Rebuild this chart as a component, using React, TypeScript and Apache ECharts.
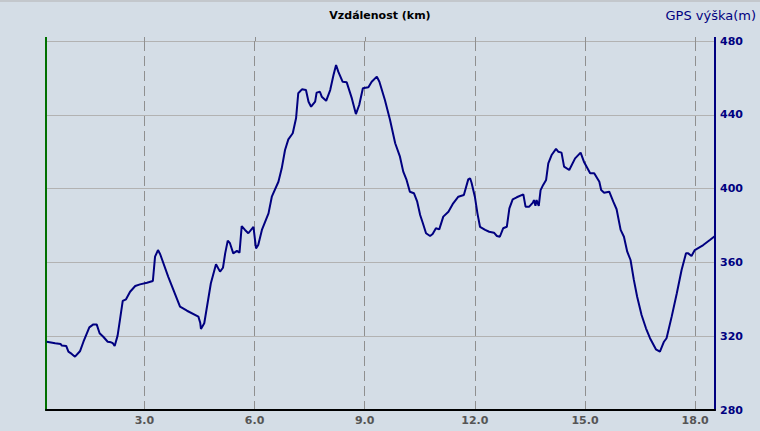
import React, { useEffect, useRef } from "react";
import * as echarts from "echarts";

const distanceKm = [
  0.34, 0.57, 0.72, 0.75, 0.87, 0.93, 1.02, 1.11, 1.25, 1.34, 1.5, 1.61, 1.7, 1.78, 1.88, 2.0, 2.09, 2.14,
  2.19, 2.27, 2.34, 2.41, 2.5, 2.61, 2.75, 2.88, 3.07, 3.23, 3.29, 3.37, 3.43, 3.65, 3.97, 4.16, 4.47, 4.52,
  4.54, 4.63, 4.81, 4.95, 5.06, 5.14, 5.2, 5.27, 5.33, 5.42, 5.52, 5.59, 5.65, 5.74, 5.83, 5.97, 6.04, 6.1,
  6.2, 6.29, 6.38, 6.47, 6.65, 6.74, 6.83, 6.92, 7.04, 7.13, 7.19, 7.29, 7.4, 7.47, 7.54, 7.65, 7.69, 7.78,
  7.83, 7.95, 8.06, 8.15, 8.22, 8.28, 8.4, 8.51, 8.65, 8.76, 8.85, 8.95, 9.1, 9.19, 9.33, 9.4, 9.55, 9.69,
  9.83, 9.96, 10.05, 10.14, 10.23, 10.34, 10.43, 10.51, 10.58, 10.67, 10.78, 10.85, 10.94, 11.03, 11.14,
  11.28, 11.41, 11.55, 11.7, 11.82, 11.87, 11.91, 12.0, 12.07, 12.14, 12.28, 12.39, 12.52, 12.6, 12.68,
  12.77, 12.87, 12.94, 13.03, 13.14, 13.32, 13.38, 13.48, 13.58, 13.61, 13.65, 13.68, 13.74, 13.79, 13.86,
  13.94, 14.0, 14.09, 14.21, 14.27, 14.36, 14.43, 14.57, 14.73, 14.88, 14.97, 15.14, 15.25, 15.39, 15.44,
  15.52, 15.66, 15.77, 15.86, 15.97, 16.06, 16.15, 16.24, 16.33, 16.42, 16.54, 16.66, 16.77, 16.93, 17.04,
  17.15, 17.22, 17.36, 17.5, 17.63, 17.75, 17.81, 17.9, 17.99, 18.22, 18.4, 18.54,
];

const elevationM = [
  317.0, 316.2, 315.8, 314.9, 314.7, 311.6, 310.4, 308.9, 312.0, 317.0, 324.8, 326.4, 326.4, 321.6, 319.7,
  317.0, 316.7, 316.2, 314.7, 320.3, 329.7, 339.1, 340.0, 344.1, 347.2, 348.1, 349.0, 349.9, 363.1, 366.7,
  364.4, 352.2, 336.0, 333.8, 330.6, 327.3, 323.9, 327.0, 348.7, 359.0, 355.0, 357.1, 364.9, 371.8, 370.4,
  364.9, 366.2, 365.3, 379.7, 377.6, 375.8, 379.3, 367.6, 369.4, 377.6, 382.1, 386.6, 395.6, 403.7, 411.0,
  420.9, 426.7, 430.0, 438.1, 451.7, 453.8, 453.4, 447.1, 444.4, 447.1, 452.0, 452.5, 449.8, 447.6, 453.4,
  461.6, 467.0, 463.4, 457.9, 457.6, 448.9, 440.4, 445.3, 454.4, 454.9, 457.9, 460.7, 457.9, 448.0, 437.2,
  424.6, 417.3, 409.2, 404.7, 398.3, 397.5, 392.9, 385.7, 381.5, 375.8, 374.3, 375.4, 378.5, 377.9, 384.8,
  387.5, 392.0, 395.6, 396.5, 405.0, 405.6, 403.2, 395.6, 386.6, 379.3, 377.6, 376.6, 376.1, 374.3, 373.9,
  378.5, 379.3, 389.3, 394.2, 395.3, 396.9, 390.2, 390.2, 392.4, 393.8, 390.7, 393.8, 390.6, 399.2, 402.0,
  404.7, 413.7, 418.2, 421.5, 420.0, 419.5, 411.9, 410.1, 416.4, 419.5, 414.6, 408.3, 408.3, 403.7, 399.2,
  397.8, 398.3, 392.9, 388.8, 377.6, 373.9, 365.8, 361.3, 350.5, 341.4, 331.5, 324.3, 318.9, 312.9, 311.6,
  317.0, 318.9, 330.6, 343.3, 355.9, 364.9, 364.9, 363.5, 366.7, 369.4, 372.1, 374.3,
];

const xTickValues = [3, 6, 9, 12, 15, 18];
const xRange = [0.32, 18.54];
const yRange = [280, 480];
const yInterval = 40;
const xTitle = "Vzdálenost (km)";
const yTitle = "GPS výška(m)";

export default function App() {
  const ref = useRef<HTMLDivElement>(null);

  useEffect(() => {
    if (!ref.current) return;
    const chart = echarts.init(ref.current, null, { renderer: "svg" });
    const data = distanceKm.map((d, i) => [d, elevationM[i]]);
    const font = "'DejaVu Sans', Verdana, sans-serif";
    const gridTop = 41;
    const ext = 4;
    const baseGraphic: any[] = [
      { type: "rect", left: 0, top: 0, shape: { width: 760, height: 2 }, style: { fill: "#c3c7cc" } },
      {
        type: "text",
        x: 380,
        y: 15,
        style: {
          text: xTitle,
          fill: "#000000",
          font: `bold 11px ${font}`,
          textAlign: "center",
          textVerticalAlign: "middle",
        },
      },
      {
        type: "text",
        x: 756,
        y: 15,
        style: {
          text: yTitle,
          fill: "#000080",
          font: `13px ${font}`,
          textAlign: "right",
          textVerticalAlign: "middle",
        },
      },
    ];
    chart.setOption({
      animation: false,
      backgroundColor: "#d4dde6",
      grid: { left: 46, right: 45, top: gridTop, bottom: 21, containLabel: false },
      xAxis: {
        type: "value",
        min: xRange[0],
        max: xRange[1],
        axisLine: { show: true, onZero: false, lineStyle: { color: "#000000", width: 2 } },
        axisTick: { show: false, customValues: xTickValues },
        axisLabel: {
          customValues: xTickValues,
          formatter: (v: number) => v.toFixed(1),
          color: "#555555",
          fontWeight: "bold",
          fontSize: 11,
          fontFamily: font,
          margin: 5,
        },
        splitLine: {
          show: true,
          lineStyle: { color: "#8f8f8f", width: 1, type: [10, 5] },
        },
      },
      yAxis: [
        {
          type: "value",
          position: "right",
          min: yRange[0],
          max: yRange[1],
          interval: yInterval,
          axisLine: { show: true, lineStyle: { color: "#000080", width: 2 } },
          axisTick: { show: false },
          axisLabel: {
            color: "#000080",
            fontWeight: "bold",
            fontSize: 11,
            fontFamily: font,
            margin: 5,
          },
          splitLine: { show: true, lineStyle: { color: "#b2b2b2", width: 1 } },
        },
        {
          type: "value",
          position: "left",
          min: yRange[0],
          max: yRange[1],
          interval: yInterval,
          axisLine: { show: true, onZero: false, lineStyle: { color: "#007000", width: 2 } },
          axisTick: { show: false },
          axisLabel: { show: false },
          splitLine: { show: false },
        },
      ],
      graphic: baseGraphic,
      series: [
        {
          type: "line",
          yAxisIndex: 0,
          data,
          showSymbol: false,
          symbol: "none",
          lineStyle: { color: "#000080", width: 2 },
          z: 5,
        },
      ],
    });

    // short extensions of the axis lines and dashed grid lines above the plot top
    const extras: any[] = [];
    const leftX = chart.convertToPixel({ xAxisIndex: 0 }, xRange[0]) as number;
    const rightX = chart.convertToPixel({ xAxisIndex: 0 }, xRange[1]) as number;
    extras.push({
      type: "line",
      shape: { x1: leftX, y1: gridTop - ext, x2: leftX, y2: gridTop },
      style: { stroke: "#007000", lineWidth: 2 },
    });
    extras.push({
      type: "line",
      shape: { x1: rightX, y1: gridTop - ext, x2: rightX, y2: gridTop },
      style: { stroke: "#000080", lineWidth: 2 },
    });
    xTickValues.forEach((v) => {
      const px = Math.round(chart.convertToPixel({ xAxisIndex: 0 }, v) as number) + 0.5;
      extras.push({
        type: "line",
        shape: { x1: px, y1: gridTop - ext, x2: px, y2: gridTop },
        style: { stroke: "#8f8f8f", lineWidth: 1 },
      });
    });
    chart.setOption({ graphic: [...baseGraphic, ...extras] });

    return () => chart.dispose();
  }, []);

  return (
    <div
      ref={ref}
      style={{ position: "fixed", left: 0, top: 0, width: 760, height: 431 }}
    />
  );
}
